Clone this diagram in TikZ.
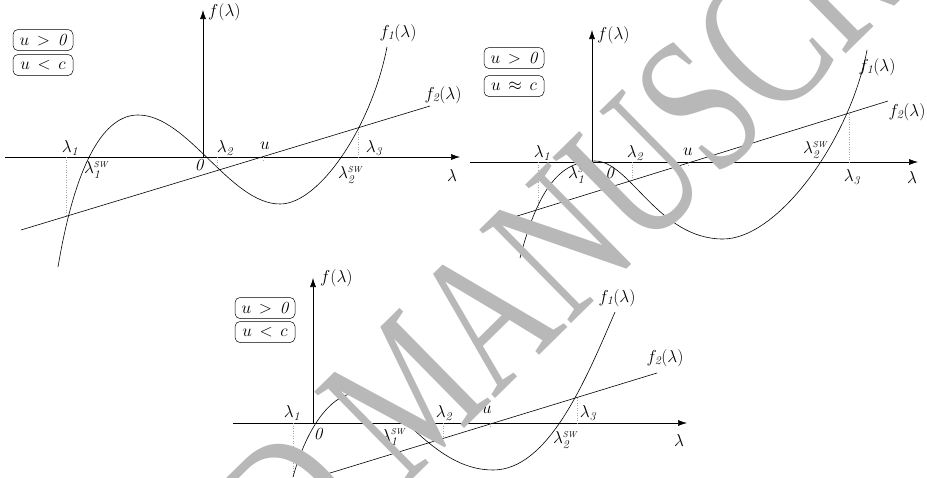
\documentclass[tikz,border=0pt]{standalone}
\usepackage{fontspec}
\usepackage{graphicx}
\usetikzlibrary{arrows.meta}
\newfontfamily\wmfont{Liberation Serif}
\begin{document}
\begin{tikzpicture}[x=1pt,y=-1pt,
  axis/.style={line width=0.6pt,-{Latex[length=9pt,width=6pt]}},
  curve/.style={line width=0.6pt},
  guide/.style={black!35,dotted,line width=0.5pt},
  cond/.style={draw,rounded corners=5pt,line width=0.5pt,minimum width=60pt,minimum height=21pt,inner sep=0pt,font=\fontsize{17}{20}\selectfont},
  lbl/.style={inner sep=0pt,font=\fontsize{17}{20}\selectfont},
  wm/.style={inner sep=0pt,text=black!28,font=\wmfont\fontsize{200}{200}\selectfont}]
\useasboundingbox (0,0) rectangle (927,477);
\fill[white] (0,0) rectangle (927,477);

% ---------------- diagram 1 (top left) ----------------
\coordinate (a1l) at (5,157); \coordinate (a1r) at (460,157);
\coordinate (o1) at (203,157); \coordinate (y1t) at (203,10);
\draw[axis] (a1l) -- (a1r);
\draw[axis] (o1) -- (y1t);
\coordinate (g1a) at (66,157); \coordinate (g1b) at (66,216);
\coordinate (g2a) at (217,157); \coordinate (g2b) at (217,171);
\coordinate (g3a) at (358,157); \coordinate (g3b) at (358,128);
\coordinate (g4a) at (263,157); \coordinate (g4b) at (263,162);
\draw[guide] (g1a) -- (g1b); \draw[guide] (g2a) -- (g2b);
\draw[guide] (g3a) -- (g3b); \draw[guide] (g4a) -- (g4b);
\coordinate (p1s) at (58,267); \coordinate (p1max) at (138,115);
\coordinate (p1min) at (280,204); \coordinate (p1e) at (387,47);
\draw[curve] (p1s) .. controls (76,160) and (105,115) .. (p1max)
  .. controls (188,115) and (230,204) .. (p1min)
  .. controls (320,204) and (372,125) .. (p1e);
\coordinate (l1a) at (21,230); \coordinate (l1b) at (430,106);
\draw[curve] (l1a) -- (l1b);
\node[cond] (c1a) at (43,40) {$u\,>\,\mathit{0}$};
\node[cond] (c1b) at (43,65) {$u\,<\,c$};
\node[lbl,anchor=west] (f1y) at (208,12) {$f(\lambda)$};
\node[lbl] (f1l1) at (70,148) {$\lambda_{\mathit{1}}$};
\node[lbl] (f1s1) at (96,170) {$\lambda_{\mathit{1}}^{\scriptscriptstyle \mathit{SW}}$};
\node[lbl] (f1z) at (199,165) {$\mathit{0}$};
\node[lbl] (f1l2) at (225,148) {$\lambda_{\mathit{2}}$};
\node[lbl] (f1u) at (265,146) {$u$};
\node[lbl] (f1l3) at (374,148) {$\lambda_{\mathit{3}}$};
\node[lbl] (f1s2) at (350,175) {$\lambda_{\mathit{2}}^{\scriptscriptstyle \mathit{SW}}$};
\node[lbl] (f1lam) at (452,175) {$\lambda$};
\node[lbl] (f1f1) at (398,33) {$f_{\mathit{1}}(\lambda)$};
\node[lbl] (f1f2) at (443,95) {$f_{\mathit{2}}(\lambda)$};

% ---------------- diagram 2 (top right) ----------------
\coordinate (a2l) at (470,162); \coordinate (a2r) at (918,162);
\coordinate (o2) at (592,162); \coordinate (y2t) at (592,30);
\draw[axis] (a2l) -- (a2r);
\draw[axis] (o2) -- (y2t);
\coordinate (h1a) at (538,162); \coordinate (h1b) at (538,208);
\coordinate (h2a) at (632,162); \coordinate (h2b) at (632,180);
\coordinate (h3a) at (849,162); \coordinate (h3b) at (849,113);
\coordinate (h4a) at (688,162); \coordinate (h4b) at (688,166);
\draw[guide] (h1a) -- (h1b); \draw[guide] (h2a) -- (h2b);
\draw[guide] (h3a) -- (h3b); \draw[guide] (h4a) -- (h4b);
\coordinate (p2s) at (520,258); \coordinate (p2max) at (595,161);
\coordinate (p2min) at (723,239); \coordinate (p2e) at (867,50);
\draw[curve] (p2s) .. controls (540,180) and (565,161) .. (p2max)
  .. controls (630,161) and (658,239) .. (p2min)
  .. controls (778,239) and (850,140) .. (p2e);
\coordinate (l2a) at (485,226); \coordinate (l2b) at (888,101);
\draw[curve] (l2a) -- (l2b);
\node[cond] (c2a) at (514,58) {$u\,>\,\mathit{0}$};
\node[cond] (c2b) at (514,86) {$u\,\approx\,c$};
\node[lbl,anchor=west] (f2y) at (597,35) {$f(\lambda)$};
\node[lbl] (f2l1) at (542,153) {$\lambda_{\mathit{1}}$};
\node[lbl] (f2l2) at (635,153) {$\lambda_{\mathit{2}}$};
\node[lbl] (f2u) at (688,152) {$u$};
\node[lbl] (f2s2) at (815,150) {$\lambda_{\mathit{2}}^{\scriptscriptstyle \mathit{SW}}$};
\node[lbl] (f2l3) at (852,177) {$\lambda_{\mathit{3}}$};
\node[lbl] (f2lam) at (912,177) {$\lambda$};
\node[lbl] (f2s1) at (591,175) {$\lambda_{\mathit{1}}^{\scriptscriptstyle \mathit{SW}}\!\!=\!\mathit{0}$};
\node[lbl] (f2f1) at (877,67) {$f_{\mathit{1}}(\lambda)$};
\node[lbl] (f2f2) at (907,112) {$f_{\mathit{2}}(\lambda)$};

% ---------------- diagram 3 (bottom) ----------------
\coordinate (a3l) at (233,423); \coordinate (a3r) at (687,423);
\coordinate (o3) at (313,423); \coordinate (y3t) at (313,278);
\draw[axis] (a3l) -- (a3r);
\draw[axis] (o3) -- (y3t);
\coordinate (k1a) at (293,423); \coordinate (k1b) at (293,477);
\coordinate (k2a) at (443,423); \coordinate (k2b) at (443,438);
\coordinate (k3a) at (577,423); \coordinate (k3b) at (577,397);
\coordinate (k4a) at (490,423); \coordinate (k4b) at (490,427);
\draw[guide] (k1a) -- (k1b); \draw[guide] (k2a) -- (k2b);
\draw[guide] (k3a) -- (k3b); \draw[guide] (k4a) -- (k4b);
\coordinate (p3s) at (293,477); \coordinate (p3max) at (357,393);
\coordinate (p3min) at (493,470); \coordinate (p3e) at (615,312);
\draw[curve] (p3s) .. controls (309,420) and (335,393) .. (p3max)
  .. controls (395,393) and (430,470) .. (p3min)
  .. controls (548,470) and (585,382) .. (p3e);
\coordinate (l3a) at (317,477); \coordinate (l3b) at (657,373);
\draw[curve] (l3a) -- (l3b);
\node[cond] (c3a) at (265,308) {$u\,>\,\mathit{0}$};
\node[cond] (c3b) at (265,332) {$u\,<\,c$};
\node[lbl,anchor=west] (f3y) at (320,278) {$f(\lambda)$};
\node[lbl] (f3l1) at (292,413) {$\lambda_{\mathit{1}}$};
\node[lbl] (f3z) at (318,434) {$\mathit{0}$};
\node[lbl] (f3s1) at (393,437) {$\lambda_{\mathit{1}}^{\scriptscriptstyle \mathit{SW}}$};
\node[lbl] (f3l2) at (444,413) {$\lambda_{\mathit{2}}$};
\node[lbl] (f3u) at (487,410) {$u$};
\node[lbl] (f3l3) at (588,413) {$\lambda_{\mathit{3}}$};
\node[lbl] (f3s2) at (565,440) {$\lambda_{\mathit{2}}^{\scriptscriptstyle \mathit{SW}}$};
\node[lbl] (f3lam) at (679,440) {$\lambda$};
\node[lbl] (f3f1) at (617,298) {$f_{\mathit{1}}(\lambda)$};
\node[lbl] (f3f2) at (665,358) {$f_{\mathit{2}}(\lambda)$};

% ---------------- watermark ----------------
\begin{scope}
\clip (0,0) rectangle (927,477);
\node[wm,anchor=base west,rotate=44.5] (wmark) at (403,489) {\scalebox{0.72}[1]{\llap{ACCEPTED\ }MANUSCRIPT}};
\end{scope}
\end{tikzpicture}
\end{document}
